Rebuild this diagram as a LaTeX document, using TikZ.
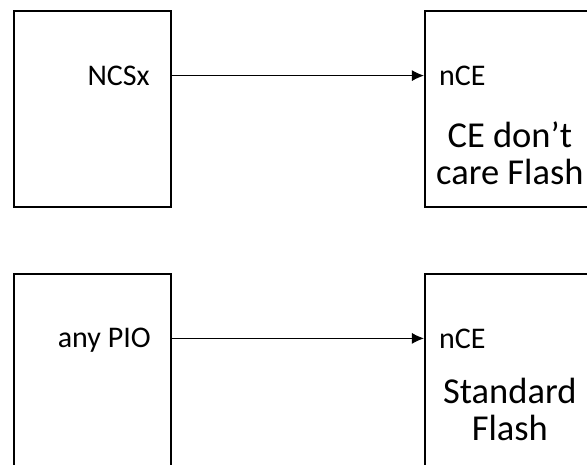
\documentclass[tikz,border=0pt]{standalone}
\usepackage{fontspec}
\setmainfont{Carlito}
\usetikzlibrary{arrows.meta,positioning,calc}

\begin{document}
\begin{tikzpicture}[
  x=1pt, y=-1pt,
  chip/.style={draw, line width=1.8pt, minimum width=157pt, minimum height=196pt, inner sep=0pt},
  flashchip/.style={chip, minimum width=170pt},
  pinname/.style={inner sep=0pt, font=\fontsize{30}{32}\selectfont, text height=19pt, text depth=0pt},
  partname/.style={align=center, inner sep=0pt, font=\fontsize{36.5}{37}\selectfont},
  sig/.style={-{Latex[length=12pt,width=11pt]}, line width=0.9pt}
]
\useasboundingbox (0,0) rectangle (587,465);

% CE don't care flash
\node[chip] (mcu1) at (92.5,109) {};
\node[flashchip, right=252pt of mcu1] (flash1) {};
\node[pinname, anchor=east] (ncsx) at ([xshift=-22pt, yshift=-65.5pt]mcu1.north east) {NCSx};
\node[pinname, anchor=west] (nce1) at ([xshift=15pt, yshift=-66pt]flash1.north west) {nCE};
\node[partname] (dontcare) at ([yshift=-143pt]flash1.north) {CE don’t\\care Flash};
\draw[sig] (ncsx.east -| mcu1.east) -- (ncsx.east -| flash1.west);

% standard flash
\node[chip, below=65pt of mcu1] (mcu2) {};
\node[flashchip, below=65pt of flash1] (flash2) {};
\node[pinname, anchor=east] (pio) at ([xshift=-21pt, yshift=-65.5pt]mcu2.north east) {any PIO};
\node[pinname, anchor=west] (nce2) at ([xshift=15pt, yshift=-66pt]flash2.north west) {nCE};
\node[partname] (standard) at ([yshift=-137pt]flash2.north) {Standard\\Flash};
\draw[sig] (pio.east -| mcu2.east) -- (pio.east -| flash2.west);
\end{tikzpicture}
\end{document}
